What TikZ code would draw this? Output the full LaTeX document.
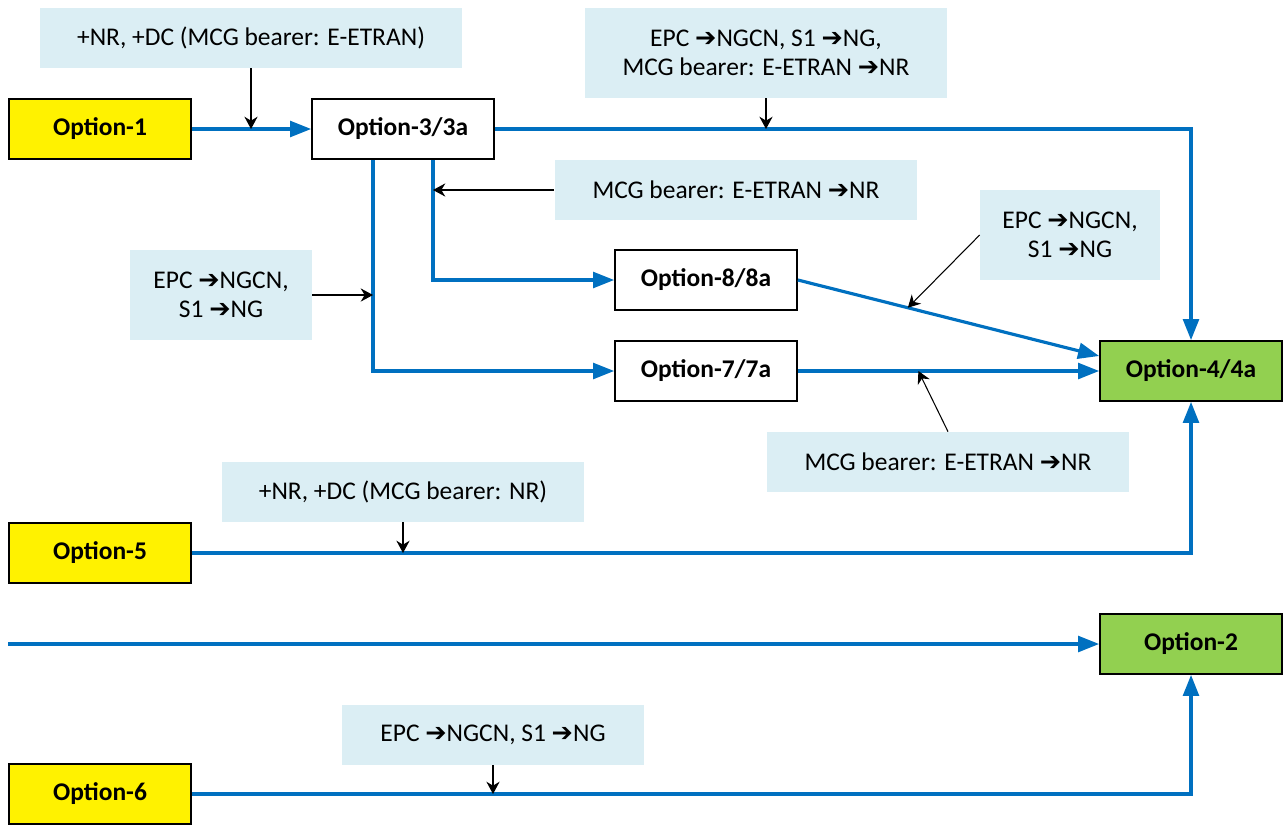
\documentclass[tikz,border=0pt]{standalone}
\usepackage{fontspec}
\setmainfont{Carlito}
\newfontfamily\symfont{DejaVu Sans}
\usetikzlibrary{arrows.meta}
\usetikzlibrary{calc}

\definecolor{flowblue}{HTML}{0070C0}
\definecolor{optgreen}{HTML}{92D050}
\definecolor{notebg}{HTML}{DBEEF4}
\newcommand{\rarr}{{\symfont\bfseries ➔}}

\begin{document}
\begin{tikzpicture}[x=0.02cm,y=-0.02cm,
    font=\fontsize{14.5}{16.5}\selectfont,
    opt/.style={draw,line width=1pt,minimum width=3.64cm,minimum height=1.2cm,inner sep=0pt,font=\fontsize{14.5}{16.5}\selectfont\bfseries},
    start/.style={opt,fill=yellow},
    target/.style={opt,fill=optgreen},
    note/.style={fill=notebg,inner sep=0pt,align=center,minimum height=1.2cm},
    flow/.style={flowblue,line width=1.8pt,-{Triangle[length=12pt,width=9pt]}},
    hint/.style={black,line width=0.6pt,-{Stealth[length=7pt,width=7.5pt]}}]
            \useasboundingbox (0,0) rectangle (1287,825);
            % option boxes
            \node[start] (O1) at (100,129) {Option-1};
            \node[opt] (O3) at (403,129) {Option-3/3a};
            \node[opt] (O8) at (706,280) {Option-8/8a};
            \node[opt] (O7) at (706,371) {Option-7/7a};
            \node[target] (O4) at (1191,371) {Option-4/4a};
            \node[start] (O5) at (100,553) {Option-5};
            \node[target] (O2) at (1191,644) {Option-2};
            \node[start] (O6) at (100,794) {Option-6};
            % notes
            \node[note,minimum width=8.46cm] (N1) at (251,38) {+NR, +DC (MCG bearer: E-ETRAN)};
            \node[note,minimum width=7.26cm,minimum height=1.8cm] (N2) at (766,53) {EPC \rarr NGCN, S1 \rarr NG,\\MCG bearer: E-ETRAN \rarr NR};
            \node[note,minimum width=7.26cm] (N3) at (736,190) {MCG bearer: E-ETRAN \rarr NR};
            \node[note,minimum width=3.64cm,minimum height=1.8cm] (N4) at (221,295) {EPC \rarr NGCN,\\S1 \rarr NG};
            \node[note,minimum width=3.6cm,minimum height=1.8cm] (N5) at (1070,235) {EPC \rarr NGCN,\\S1 \rarr NG};
            \node[note,minimum width=7.26cm] (N6) at (948,462) {MCG bearer: E-ETRAN \rarr NR};
            \node[note,minimum width=7.24cm] (N7) at (403,492) {+NR, +DC (MCG bearer: NR)};
            \node[note,minimum width=6.06cm] (N8) at (493,735) {EPC \rarr NGCN, S1 \rarr NG};
            \coordinate (J7) at ([xshift=-0.6cm]O3.south);
            \coordinate (J8) at ([xshift=0.6cm]O3.south);
            \coordinate (S2) at (8,644);
            % migration paths
            \draw[flow] (O1) -- (O3);
            \draw[flow] (O3.east) -| (O4.north);
            \draw[flow] (J7) |- (O7.west);
            \draw[flow] (J8) |- (O8.west);
            \draw[flow] (O8.east) -- coordinate[pos=0.365] (P8) ([yshift=0.3cm]O4.west);
            \draw[flow] (O7) -- coordinate[pos=0.4] (P7) (O4);
            \draw[flow] (O5.east) -| (O4.south);
            \draw[flow] (S2) -- (O2);
            \draw[flow] (O6.east) -| (O2.south);
            % note pointers
            \draw[hint] (N1.south) -- (N1.south |- O1.east);
            \draw[hint] (N2.south) -- (N2.south |- O3.east);
            \draw[hint] (N3.west) -- (N3.west -| J8);
            \draw[hint] (N4.east) -- (N4.east -| J7);
            \draw[hint] (N5.west) -- (P8);
            \draw[hint] (N6.north) -- (P7);
            \draw[hint] (N7.south) -- (N7.south |- O5.east);
            \draw[hint] (N8.south) -- (N8.south |- O6.east);
        \end{tikzpicture}
\end{document}
